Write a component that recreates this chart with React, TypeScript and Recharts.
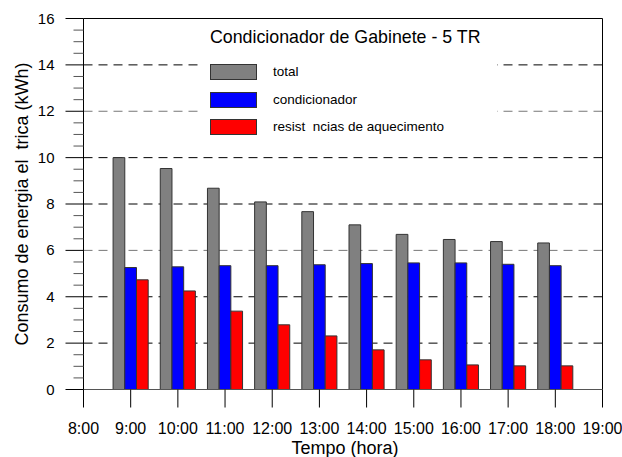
import {
  Bar,
  BarChart,
  CartesianGrid,
  Legend,
  ReferenceLine,
  XAxis,
  YAxis,
} from 'recharts'

const FONT = '"Liberation Sans", Arial, sans-serif'

const horas = [9, 10, 11, 12, 13, 14, 15, 16, 17, 18]
const total = [10.0, 9.53, 8.68, 8.09, 7.67, 7.1, 6.69, 6.47, 6.38, 6.32]
const condicionador = [5.26, 5.29, 5.34, 5.34, 5.38, 5.43, 5.46, 5.46, 5.4, 5.34]
const resistencias = [4.73, 4.25, 3.38, 2.79, 2.31, 1.71, 1.28, 1.06, 1.02, 1.02]

const seriesOrder = ['total', 'condicionador', 'resistencias']

const xTicks = [8, 9, 10, 11, 12, 13, 14, 15, 16, 17, 18, 19]
const yTicks = [
  0, 0.5, 1, 1.5, 2, 2.5, 3, 3.5, 4, 4.5, 5, 5.5, 6, 6.5, 7, 7.5, 8,
  8.5, 9, 9.5, 10, 10.5, 11, 11.5, 12, 12.5, 13, 13.5, 14, 14.5, 15, 15.5, 16,
]
const gridValues = [2, 4, 6, 8, 10, 12, 14]
const grayGrid = [6, 12]

const data = horas.map((hora, i) => ({
  hora,
  total: total[i],
  condicionador: condicionador[i],
  resistencias: resistencias[i],
}))

const TICK = 18
const Y_MARGIN = 11

function YTick({ x, y, payload }: { x?: number; y?: number; payload?: { value: number } }) {
  if (x == null || y == null || !payload) return null
  const axisX = x + TICK + Y_MARGIN
  const v = payload.value
  const major = v % 2 === 0
  return (
    <g>
      <line
        x1={axisX - (major ? TICK : 10)}
        x2={axisX}
        y1={y}
        y2={y}
        stroke={major ? '#000' : '#555'}
      />
      {major && (
        <text x={x} y={y} dy={5} textAnchor="end" fontSize={15} fontFamily={FONT} fill="#000">
          {v}
        </text>
      )}
    </g>
  )
}

function GridLine(props: any) {
  const { x1, x2, y1, y2, index } = props
  const gray = grayGrid.includes(gridValues[index])
  return (
    <line
      x1={x1}
      x2={x2}
      y1={y1}
      y2={y2}
      stroke={gray ? '#777' : '#000'}
      strokeDasharray="9 6"
    />
  )
}

function YTitle({ viewBox }: any) {
  const cx = 22
  const cy = viewBox.y + viewBox.height / 2
  return (
    <text
      x={cx}
      y={cy}
      transform={`rotate(-90, ${cx}, ${cy})`}
      textAnchor="middle"
      dominantBaseline="central"
      fontSize={18}
      fontFamily={FONT}
      fill="#000"
    >
      {'Consumo de energia el\u00a0\u00a0trica (kWh)'}
    </text>
  )
}

function XTitle({ viewBox }: any) {
  return (
    <text
      x={viewBox.x + viewBox.width / 2 + 2}
      y={454}
      textAnchor="middle"
      fontSize={18}
      fontFamily={FONT}
      fill="#000"
    >
      Tempo (hora)
    </text>
  )
}

interface LegendItem {
  value: string
  color: string
  dataKey?: string
}

function ChartLegend({ payload }: { payload?: LegendItem[] }) {
  const items = [...(payload ?? [])].sort(
    (a, b) => seriesOrder.indexOf(String(a.dataKey)) - seriesOrder.indexOf(String(b.dataKey)),
  )
  return (
    <div style={{ position: 'relative', width: 297, height: 125, background: '#fff', fontFamily: FONT }}>
      <div style={{ position: 'absolute', left: 10, top: 5, fontSize: 17.8, whiteSpace: 'nowrap' }}>
        Condicionador de Gabinete - 5 TR
      </div>
      {items.map((item, i) => (
        <div key={item.value} style={{ position: 'absolute', left: 10, top: 42 + i * 27.5, height: 16 }}>
          <div
            style={{
              position: 'absolute',
              left: 0,
              top: 0,
              width: 45,
              height: 14,
              background: item.color,
              border: '1px solid #333',
            }}
          />
          <div
            style={{
              position: 'absolute',
              left: 63,
              top: -1,
              fontSize: 13.5,
              whiteSpace: 'nowrap',
              lineHeight: '18px',
            }}
          >
            {item.value}
          </div>
        </div>
      ))}
    </div>
  )
}

export default function App() {
  return (
    <div style={{ position: 'absolute', left: 0, top: 0, background: '#fff' }}>
      <BarChart
        width={622}
        height={457}
        data={data}
        margin={{ top: 18.5, right: 19.5, bottom: 0, left: 0.5 }}
        barGap={0}
        barSize={11.7}
      >
        <CartesianGrid
          vertical={false}
          horizontalValues={gridValues}
          horizontal={(p: any) => <GridLine key={p.key} {...p} />}
        />
        <XAxis
          dataKey="hora"
          type="number"
          domain={[8, 19]}
          ticks={xTicks}
          interval={0}
          height={67.5}
          tickSize={TICK}
          tickMargin={15}
          tickFormatter={(v: number) => `${v}:00`}
          tick={{ fill: '#000', fontSize: 16, fontFamily: FONT }}
          tickLine={{ stroke: '#000' }}
          axisLine={{ stroke: '#555' }}
          label={(p: any) => <XTitle {...p} />}
        />
        <YAxis
          domain={[0, 16]}
          ticks={yTicks}
          interval={0}
          width={83}
          tickSize={TICK}
          tickMargin={Y_MARGIN}
          tickLine={false}
          tick={<YTick />}
          axisLine={{ stroke: '#000' }}
          label={(p: any) => <YTitle {...p} />}
        />
        <ReferenceLine y={16} stroke="#000" />
        <ReferenceLine x={19} stroke="#000" />
        <Legend
          layout="horizontal"
          verticalAlign="middle"
          align="center"
          content={<ChartLegend />}
          wrapperStyle={{ left: 200, top: 22, width: 297, height: 125 }}
        />
        <Bar dataKey="total" name="total" fill="#808080" stroke="#333" isAnimationActive={false} />
        <Bar dataKey="condicionador" name="condicionador" fill="#0000ff" stroke="#333" isAnimationActive={false} />
        <Bar
          dataKey="resistencias"
          name={'resist\u00a0\u00a0ncias de aquecimento'}
          fill="#ff0000"
          stroke="#333"
          isAnimationActive={false}
        />
      </BarChart>
    </div>
  )
}
